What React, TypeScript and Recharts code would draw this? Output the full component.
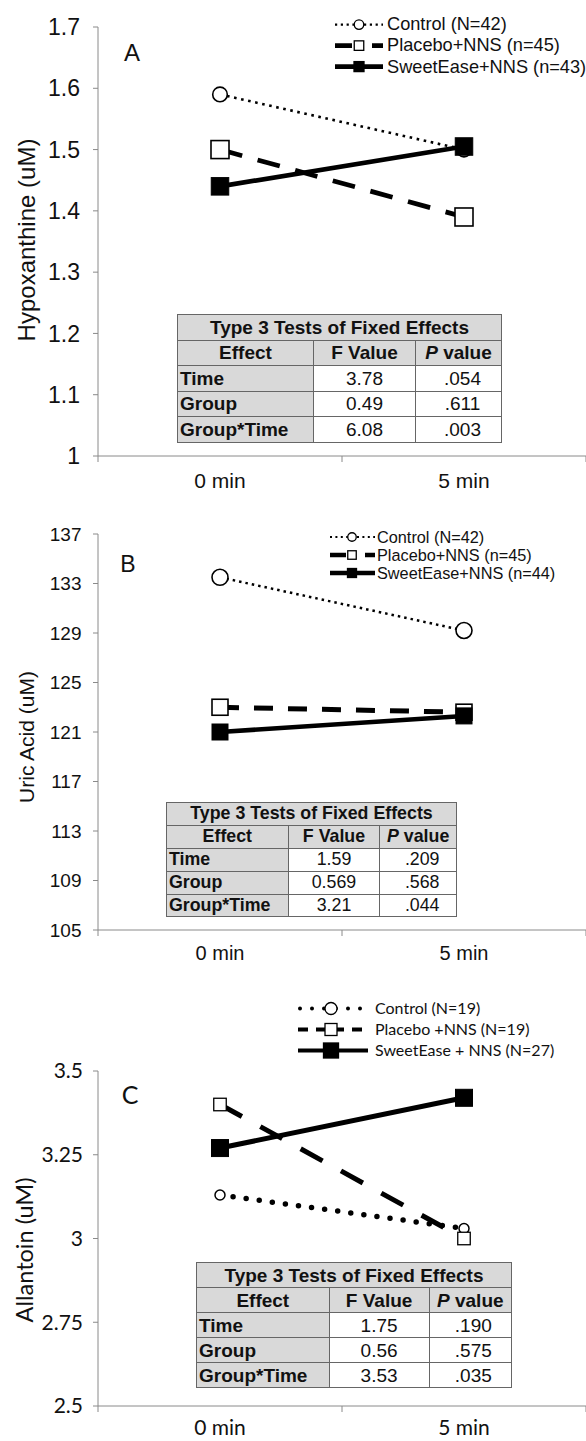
import React from 'react';
import { LineChart, Line, XAxis, YAxis } from 'recharts';

const times = ['0 min', '5 min'];
const effects = ['Time', 'Group', 'Group*Time'];

// A - hypoxanthine
const hypoControl = [1.59, 1.5];
const hypoPlacebo = [1.5, 1.39];
const hypoSweet = [1.44, 1.505];
const hypoTicks = [1, 1.1, 1.2, 1.3, 1.4, 1.5, 1.6, 1.7];
const hypoNames = ['Control (N=42)', 'Placebo+NNS (n=45)', 'SweetEase+NNS (n=43)'];
const hypoF = ['3.78', '0.49', '6.08'];
const hypoP = ['.054', '.611', '.003'];

// B - uric acid
const uricControl = [133.5, 129.2];
const uricPlacebo = [123.0, 122.6];
const uricSweet = [121.0, 122.3];
const uricTicks = [105, 109, 113, 117, 121, 125, 129, 133, 137];
const uricNames = ['Control (N=42)', 'Placebo+NNS (n=45)', 'SweetEase+NNS (n=44)'];
const uricF = ['1.59', '0.569', '3.21'];
const uricP = ['.209', '.568', '.044'];

// C - allantoin
const allaControl = [3.13, 3.03];
const allaPlacebo = [3.4, 3.0];
const allaSweet = [3.27, 3.42];
const allaTicks = [2.5, 2.75, 3, 3.25, 3.5];
const allaNames = ['Control (N=19)', 'Placebo +NNS (N=19)', 'SweetEase + NNS (N=27)'];
const allaF = ['1.75', '0.56', '3.53'];
const allaP = ['.190', '.575', '.035'];

const ARIAL = '"Liberation Sans", Arial, sans-serif';
const CALI = 'Lato, "Open Sans", sans-serif';
const AXIS = '#8a8a8a';
const GRAY = '#d9d9d9';
const INK = '#111';

const keys = ['control', 'placebo', 'sweet'];

const panels = [
  {
    letter: 'A', top: 0, height: 500, plotTop: 27, axisH: 44, font: ARIAL,
    domain: [1, 1.7], ticks: hypoTicks, tickFont: 23, tickGap: 13, xFont: 21, xDy: 24,
    series: [hypoControl, hypoPlacebo, hypoSweet], names: hypoNames,
    yLabel: 'Hypoxanthine (uM)', yLabelPos: [27, 240], yLabelFont: 24,
    letterPos: [132, 53], letterFont: 24,
    lines: [
      { w: 2.6, dash: '2.6 4.6', cap: 'butt', marker: 'circle', size: 14.6, sw: 1.6 },
      { w: 4.7, dash: '23 16', cap: 'butt', marker: 'open', size: 18, sw: 1.6 },
      { w: 4.7, dash: undefined, cap: 'butt', marker: 'filled', size: 17.5, sw: 1 },
    ],
    legend: { left: 335, top: 13.7, row: 21.2, iconW: 48, mark: 24, gap: 4, fs: 18.2, font: ARIAL,
      icons: [
        { w: 2.4, dash: '2.2 3.6', cap: 'butt', size: 9.5 },
        { w: 4.6, dash: '17 20', cap: 'butt', size: 9.5 },
        { w: 4.6, dash: undefined, cap: 'butt', size: 10 },
      ] },
    table: { left: 177, top: 314, cols: [136, 102, 86], rowH: 25.5, fs: 19, pPad: 8 },
    f: hypoF, p: hypoP,
  },
  {
    letter: 'B', top: 480, height: 494, plotTop: 54, axisH: 44, font: ARIAL,
    domain: [105, 137], ticks: uricTicks, tickFont: 19, tickGap: 11.5, xFont: 20, xDy: 22,
    series: [uricControl, uricPlacebo, uricSweet], names: uricNames,
    yLabel: 'Uric Acid (uM)', yLabelPos: [26, 257], yLabelFont: 21,
    letterPos: [128, 83.5], letterFont: 23,
    lines: [
      { w: 2.5, dash: '2.5 4', cap: 'butt', marker: 'circle', size: 16, sw: 1.6 },
      { w: 5, dash: '19 15', cap: 'butt', marker: 'open', size: 16, sw: 1.6 },
      { w: 4.5, dash: undefined, cap: 'butt', marker: 'filled', size: 16, sw: 1 },
    ],
    legend: { left: 330, top: 48.3, row: 18, iconW: 45, mark: 22, gap: 2, fs: 16.3, font: ARIAL,
      icons: [
        { w: 2.2, dash: '2 3.4', cap: 'butt', size: 8.5 },
        { w: 4.4, dash: '16 19', cap: 'butt', size: 8.5 },
        { w: 4.4, dash: undefined, cap: 'butt', size: 9 },
      ] },
    table: { left: 166, top: 322, cols: [121.6, 91.8, 76.6], rowH: 22.9, fs: 17.8, pPad: 8 },
    f: uricF, p: uricP,
  },
  {
    letter: 'C', top: 950, height: 491, plotTop: 121, axisH: 35, font: CALI,
    domain: [2.5, 3.5], ticks: allaTicks, tickFont: 21, tickGap: 10, xFont: 21, xDy: 21,
    series: [allaControl, allaPlacebo, allaSweet], names: allaNames,
    yLabel: 'Allantoin (uM)', yLabelPos: [25, 300], yLabelFont: 23.5,
    letterPos: [130, 144], letterFont: 25,
    lines: [
      { w: 5.5, dash: '0 13.2', cap: 'round', marker: 'circle', size: 10, sw: 1.5 },
      { w: 5, dash: '25 21', cap: 'butt', marker: 'open', size: 12.5, sw: 1.3 },
      { w: 5, dash: undefined, cap: 'butt', marker: 'filled', size: 17, sw: 1 },
    ],
    legend: { left: 298, top: 47.5, row: 21, iconW: 70, mark: 33, gap: 7, fs: 16, font: CALI,
      icons: [
        { w: 4, dash: '0 12', cap: 'round', size: 12 },
        { w: 4, dash: '10 8', cap: 'butt', size: 12 },
        { w: 4, dash: undefined, cap: 'butt', size: 15 },
      ] },
    table: { left: 196, top: 312, cols: [132.6, 100, 82.4], rowH: 25, fs: 19, pPad: 6 },
    f: allaF, p: allaP,
  },
];

const makeDot = (st) => (props) => {
  const { cx, cy, index } = props;
  if (cx == null || cy == null) return null;
  const h = st.size / 2;
  if (st.marker === 'circle') {
    return <circle key={index} cx={cx} cy={cy} r={h} fill="#fff" stroke="#000" strokeWidth={st.sw} />;
  }
  return (
    <rect key={index} x={cx - h} y={cy - h} width={st.size} height={st.size}
      fill={st.marker === 'filled' ? '#000' : '#fff'} stroke="#000" strokeWidth={st.sw} />
  );
};

const EdgeTick = (props) => {
  const { x, y, payload, index, visibleTicksCount, width, cfg } = props;
  const half = width / visibleTicksCount / 2;
  const axisY = y - 8;
  return (
    <g>
      <line x1={x - half} x2={x - half} y1={axisY} y2={axisY + 6} stroke={AXIS} />
      {index === visibleTicksCount - 1 && (
        <line x1={x + half} x2={x + half} y1={axisY} y2={axisY + 6} stroke={AXIS} />
      )}
      <text x={x} y={y + cfg.xDy} textAnchor="middle" fontSize={cfg.xFont} fontFamily={cfg.font} fill={INK}>
        {payload.value}
      </text>
    </g>
  );
};

function LegendBox({ cfg }) {
  const lg = cfg.legend;
  return (
    <div style={{ position: 'absolute', left: lg.left, top: lg.top, fontFamily: lg.font, fontSize: lg.fs, color: INK }}>
      {cfg.names.map((name, i) => {
        const ic = lg.icons[i];
        const st = cfg.lines[i];
        const m = lg.row / 2;
        const h = ic.size / 2;
        return (
          <div key={name} style={{ display: 'flex', alignItems: 'center', height: lg.row, whiteSpace: 'nowrap', lineHeight: 1 }}>
            <svg width={lg.iconW} height={lg.row} style={{ display: 'block', flex: 'none' }}>
              <line x1={ic.cap === 'round' ? 2 : 0} x2={lg.iconW} y1={m} y2={m} stroke="#000" strokeWidth={ic.w}
                strokeDasharray={ic.dash} strokeLinecap={ic.cap} />
              {st.marker === 'circle' ? (
                <circle cx={lg.mark} cy={m} r={h} fill="#fff" stroke="#000" strokeWidth={1.3} />
              ) : (
                <rect x={lg.mark - h} y={m - h} width={ic.size} height={ic.size}
                  fill={st.marker === 'filled' ? '#000' : '#fff'} stroke="#000" strokeWidth={1.3} />
              )}
            </svg>
            <span style={{ marginLeft: lg.gap }}>{name}</span>
          </div>
        );
      })}
    </div>
  );
}

function StatsTable({ cfg }) {
  const t = cfg.table;
  const border = '1.5px solid #666';
  const cell = { border, padding: 0, lineHeight: 1, textAlign: 'center', verticalAlign: 'middle' };
  const head = { ...cell, background: GRAY, fontWeight: 'bold' };
  const total = t.cols.reduce((a, b) => a + b, 0);
  return (
    <table style={{ position: 'absolute', left: t.left, top: t.top, width: total, borderCollapse: 'collapse',
      tableLayout: 'fixed', fontFamily: ARIAL, fontSize: t.fs, color: INK }}>
      <colgroup>
        {t.cols.map((w, i) => <col key={i} style={{ width: w }} />)}
      </colgroup>
      <tbody>
        <tr style={{ height: t.rowH }}>
          <td colSpan={3} style={head}>Type 3 Tests of Fixed Effects</td>
        </tr>
        <tr style={{ height: t.rowH }}>
          <td style={head}>Effect</td>
          <td style={head}>F Value</td>
          <td style={head}><i>P</i> value</td>
        </tr>
        {effects.map((e, i) => (
          <tr key={e} style={{ height: t.rowH }}>
            <td style={{ ...head, textAlign: 'left', paddingLeft: 2 }}>{e}</td>
            <td style={{ ...cell, background: '#fff' }}>{cfg.f[i]}</td>
            <td style={{ ...cell, background: '#fff', paddingLeft: t.pPad }}>{cfg.p[i]}</td>
          </tr>
        ))}
      </tbody>
    </table>
  );
}

function Panel({ cfg }) {
  const data = times.map((time, i) => ({
    time,
    control: cfg.series[0][i],
    placebo: cfg.series[1][i],
    sweet: cfg.series[2][i],
  }));
  return (
    <div style={{ position: 'absolute', left: 0, top: cfg.top, width: 586, height: cfg.height }}>
      <LineChart width={586} height={cfg.height} data={data} margin={{ top: cfg.plotTop, right: 0, bottom: 0, left: 0 }}>
        <XAxis dataKey="time" scale="band" height={cfg.axisH} interval={0}
          axisLine={{ stroke: AXIS }} tickLine={false} tickSize={6} tickMargin={2}
          tick={(t) => <EdgeTick {...t} cfg={cfg} />} />
        <YAxis type="number" width={98} domain={cfg.domain} ticks={cfg.ticks} interval={0} allowDataOverflow
          axisLine={{ stroke: AXIS }} tickLine={{ stroke: AXIS }} tickSize={5} tickMargin={cfg.tickGap}
          tick={{ fontSize: cfg.tickFont, fontFamily: cfg.font, fill: INK }} />
        {keys.map((k, i) => {
          const st = cfg.lines[i];
          return (
            <Line key={k} type="linear" dataKey={k} name={cfg.names[i]} stroke="#000" strokeWidth={st.w}
              strokeDasharray={st.dash} strokeLinecap={st.cap} dot={makeDot(st)} activeDot={false}
              isAnimationActive={false} />
          );
        })}
      </LineChart>
      <div style={{ position: 'absolute', left: cfg.letterPos[0], top: cfg.letterPos[1], transform: 'translate(-50%, -50%)',
        fontFamily: cfg.font, fontSize: cfg.letterFont, color: INK, lineHeight: 1 }}>{cfg.letter}</div>
      <div style={{ position: 'absolute', left: cfg.yLabelPos[0], top: cfg.yLabelPos[1], transform: 'translate(-50%, -50%) rotate(-90deg)',
        fontFamily: cfg.font, fontSize: cfg.yLabelFont, color: INK, lineHeight: 1, whiteSpace: 'nowrap' }}>{cfg.yLabel}</div>
      <LegendBox cfg={cfg} />
      <StatsTable cfg={cfg} />
    </div>
  );
}

export default function App() {
  return (
    <div style={{ position: 'absolute', left: 0, top: 0, width: 586, height: 1441, background: '#fff', overflow: 'hidden' }}>
      {panels.map((p) => <Panel key={p.letter} cfg={p} />)}
    </div>
  );
}
